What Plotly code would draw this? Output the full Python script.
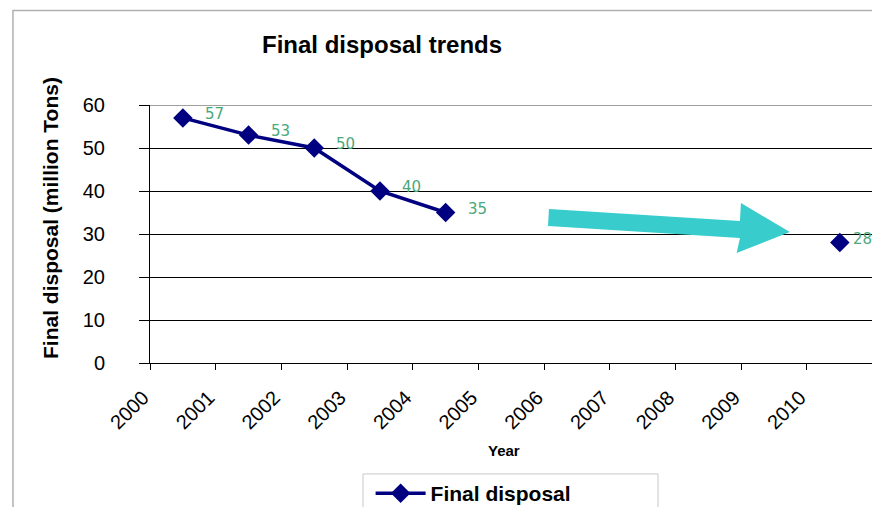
import plotly.graph_objects as go

# Final disposal volumes (million tons) by year
years = [2000, 2001, 2002, 2003, 2004, 2010]
disposal = [57, 53, 50, 40, 35, 28]
tick_years = list(range(2000, 2011))

FONT = "Liberation Sans, Arial, sans-serif"
NAVY = "#000080"
LABEL_GREEN = "#4aa87a"
ARROW = "#38cccc"

# points sit in the middle of each year slot
x_pos = [y + 0.5 for y in years]

fig = go.Figure()
fig.add_trace(go.Scatter(
    x=x_pos[:5], y=disposal[:5], mode="lines+markers", name="Final disposal",
    line=dict(color=NAVY, width=3.5),
    marker=dict(symbol="diamond", size=15, color=NAVY),
    legendgroup="fd",
))
# 2010 target is shown as an isolated point
fig.add_trace(go.Scatter(
    x=x_pos[5:], y=disposal[5:], mode="markers", name="Final disposal",
    marker=dict(symbol="diamond", size=15, color=NAVY),
    legendgroup="fd", showlegend=False,
))

annotations = []
for i, (xv, yv) in enumerate(zip(x_pos, disposal)):
    annotations.append(dict(
        x=xv, y=yv, xref="x", yref="y", text=str(yv), showarrow=False,
        xanchor="left", yanchor="middle",
        xshift=11 if i == len(disposal) - 1 else 20, yshift=4,
        font=dict(family="DejaVu Sans", size=15, color=LABEL_GREEN),
    ))

annotations += [
    dict(text="<b>Final disposal trends</b>", x=0.321, y=1.236, xref="paper", yref="paper",
         showarrow=False, xanchor="center", yanchor="middle",
         font=dict(family=FONT, size=24, color="black")),
    dict(text="<b>Final disposal (million Tons)</b>", x=-0.1385, y=0.562, xref="paper", yref="paper",
         showarrow=False, textangle=-90, xanchor="center", yanchor="middle",
         font=dict(family=FONT, size=21, color="black")),
    dict(text="<b>Year</b>", x=0.490, y=-0.341, xref="paper", yref="paper",
         showarrow=False, xanchor="center", yanchor="middle",
         font=dict(family=FONT, size=15, color="black")),
]

shapes = [
    # outer chart frame
    dict(type="rect", xref="paper", yref="paper", x0=-0.1898, x1=1.011, y0=-0.609, y1=1.366,
         line=dict(color="#b0b0b0", width=1.5), layer="below"),
    # legend frame
    dict(type="rect", xref="paper", yref="paper", x0=0.295, x1=0.7036, y0=-0.609, y1=-0.430,
         line=dict(color="#c8c8c8", width=1)),
    # plot area top border
    dict(type="line", xref="paper", yref="y", x0=0, x1=1, y0=60, y1=60,
         line=dict(color="#a0a0a0", width=2)),
    # trend arrow
    dict(type="path", xref="x", yref="y",
         path="M 2006.073,35.81 L 2008.98,33.02 L 2008.995,37.21 L 2009.74,30.47 "
              "L 2008.93,25.58 L 2008.98,29.07 L 2006.058,31.86 Z",
         fillcolor=ARROW, line=dict(width=0)),
]

fig.update_layout(
    width=872, height=507,
    margin=dict(l=150, r=0, t=105, b=144, autoexpand=False),
    paper_bgcolor="white", plot_bgcolor="white",
    font=dict(family=FONT, color="black"),
    showlegend=True,
    legend=dict(x=0.425, y=0.067, xref="container", yref="container",
                xanchor="left", yanchor="top", itemwidth=50,
                font=dict(family=FONT, size=21, color="black", weight="bold"),
                bgcolor="rgba(0,0,0,0)", borderwidth=0),
    annotations=annotations,
    shapes=shapes,
)

fig.update_xaxes(
    range=[2000, 2010.99], tickmode="array", tickvals=tick_years,
    ticktext=[str(t) for t in tick_years], tickangle=-45,
    tickfont=dict(family=FONT, size=20, color="black"),
    ticks="outside", ticklen=6, tickcolor="black",
    showgrid=False, zeroline=False, showline=True, linecolor="black", linewidth=1,
    ticklabelstandoff=8, ticklabelshift=-7, automargin=False,
)
fig.update_yaxes(
    range=[0, 60], tickmode="array", tickvals=[0, 10, 20, 30, 40, 50, 60],
    tickfont=dict(family=FONT, size=20, color="black"),
    ticks="outside", ticklen=10, tickcolor="black",
    showgrid=True, gridcolor="black", gridwidth=1,
    zeroline=False, showline=True, linecolor="black", linewidth=1,
    ticklabelstandoff=30, automargin=False,
)

fig.write_html("out.html")
